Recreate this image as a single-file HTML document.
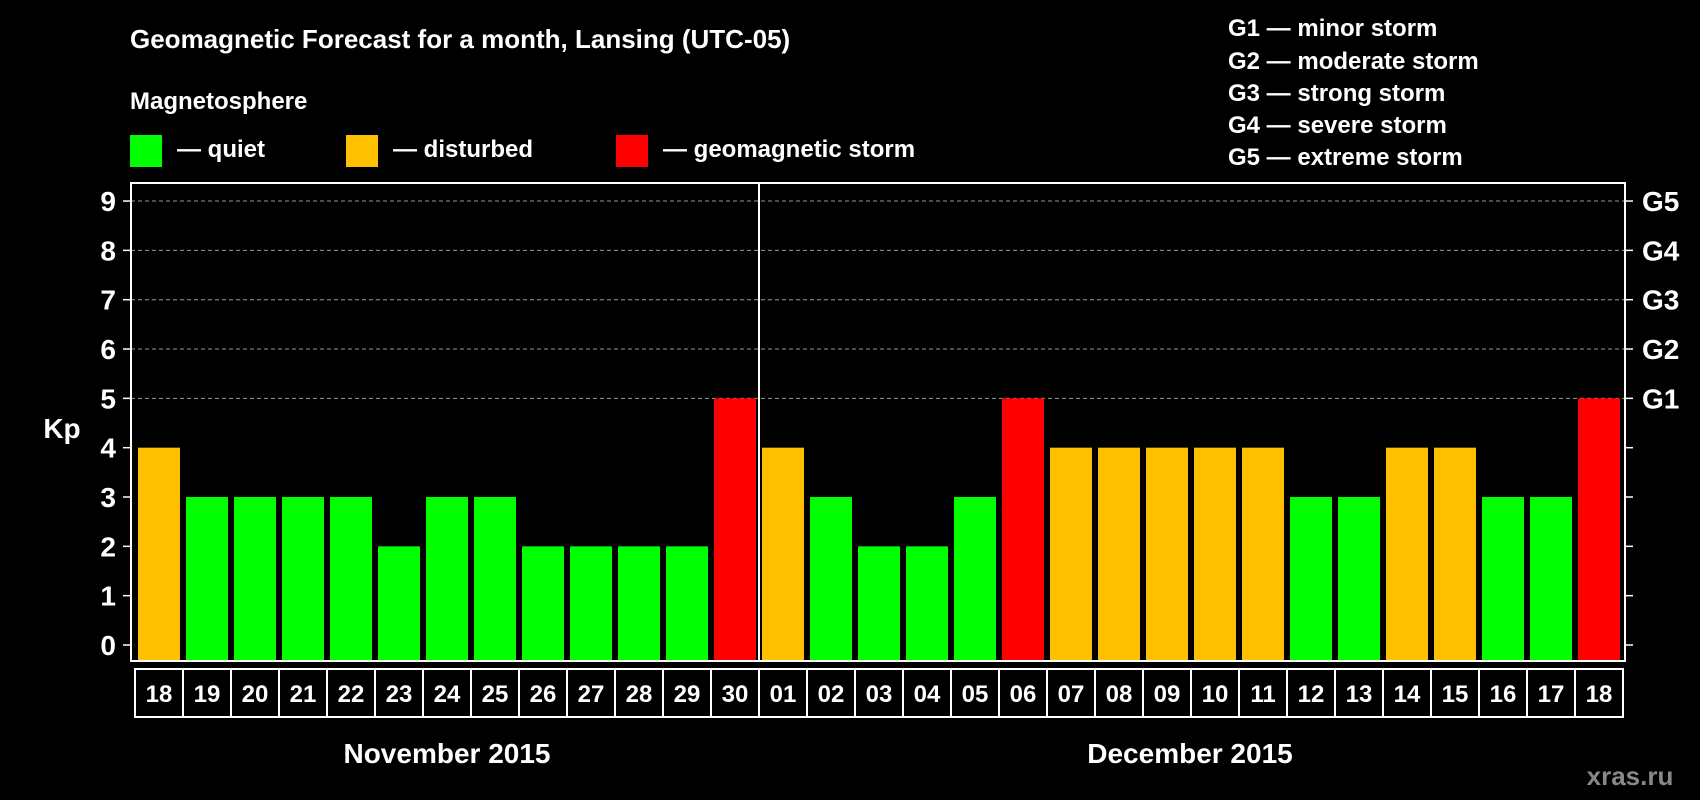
<!DOCTYPE html>
<html><head><meta charset="utf-8"><style>
html,body{margin:0;padding:0;background:#000;width:1700px;height:800px;overflow:hidden}
svg{display:block;font-family:"Liberation Sans",sans-serif;font-weight:bold}
</style></head><body>
<svg id="chart" width="1700" height="800" viewBox="0 0 1700 800">
<text x="130" y="48" fill="#fff" font-size="26">Geomagnetic Forecast for a month, Lansing (UTC-05)</text>
<text x="130" y="109" fill="#fff" font-size="24">Magnetosphere</text>
<rect x="130" y="135" width="32" height="32" fill="#00ff00"/>
<text x="177" y="157" fill="#fff" font-size="24">— quiet</text>
<rect x="346" y="135" width="32" height="32" fill="#ffc000"/>
<text x="393" y="157" fill="#fff" font-size="24">— disturbed</text>
<rect x="616" y="135" width="32" height="32" fill="#ff0000"/>
<text x="663" y="157" fill="#fff" font-size="24">— geomagnetic storm</text>
<g fill="#fff" font-size="24">
<text x="1228" y="36">G1 — minor storm</text>
<text x="1228" y="69">G2 — moderate storm</text>
<text x="1228" y="101">G3 — strong storm</text>
<text x="1228" y="133">G4 — severe storm</text>
<text x="1228" y="165">G5 — extreme storm</text>
</g>
<text x="62" y="438" fill="#fff" font-size="28" text-anchor="middle">Kp</text>
<text x="447" y="763" fill="#fff" font-size="28" text-anchor="middle">November 2015</text>
<text x="1190" y="763" fill="#fff" font-size="28" text-anchor="middle">December 2015</text>
<text x="1630" y="785" fill="#888" font-size="26" text-anchor="middle">xras.ru</text>
<g id="plot"></g>
</svg>
<script>
const dayLabels = ["18","19","20","21","22","23","24","25","26","27","28","29","30","01","02","03","04","05","06","07","08","09","10","11","12","13","14","15","16","17","18"];
const kpValues = [4,3,3,3,3,2,3,3,2,2,2,2,5,4,3,2,2,3,5,4,4,4,4,4,3,3,4,4,3,3,5];
const yTicks = [0,1,2,3,4,5,6,7,8,9];
const gLabels = ["G1","G2","G3","G4","G5"];
const monthBreakIndex = 13;

const NS = "http://www.w3.org/2000/svg";
const plot = document.getElementById("plot");
const L = 131, R = 1625, T = 183, B = 661;
const y0 = 645, unit = 49.33;
const y = v => y0 - v * unit;
const pitch = 48, x0 = 138, bw = 42;
const xBar = i => x0 + i * pitch;
function mk(tag, attrs) { const e = document.createElementNS(NS, tag); for (const k in attrs) e.setAttribute(k, attrs[k]); plot.appendChild(e); return e; }
function color(v) { return v >= 5 ? "#ff0000" : v >= 4 ? "#ffc000" : "#00ff00"; }

yTicks.forEach(v => {
  if (v >= 5) {
    const g = mk("line", {x1: L, x2: R, y1: y(v), y2: y(v), stroke: "#999", "stroke-width": 1, "stroke-dasharray": "4,3"});
    
    
  }
  const t1 = mk("line", {x1: L - 8, x2: L, y1: y(v), y2: y(v), stroke: "#fff", "stroke-width": 1.5});
  
  
  const t2 = mk("line", {x1: R, x2: R + 8, y1: y(v), y2: y(v), stroke: "#fff", "stroke-width": 1.5});
  
  
  const lb = mk("text", {x: 116, y: y(v) + 10, fill: "#fff", "font-size": 28, "text-anchor": "end"});
  lb.textContent = v;
  
  
});
gLabels.forEach((g, i) => {
  const lb = mk("text", {x: 1642, y: y(5 + i) + 10, fill: "#fff", "font-size": 28});
  lb.textContent = g;
  
  
});
kpValues.forEach((v, i) => {
  const r = mk("rect", {x: xBar(i), y: y(v), width: bw, height: B - y(v), fill: color(v)});
  
  
  const bx = mk("rect", {x: 135 + i * pitch, y: 669, width: pitch, height: 48, fill: "none", stroke: "#fff", "stroke-width": 2});
  
  
  const t = mk("text", {x: 135 + i * pitch + pitch / 2, y: 702, fill: "#fff", "font-size": 24, "text-anchor": "middle"});
  t.textContent = dayLabels[i];
  
  
});
const frame = mk("rect", {x: L, y: T, width: R - L, height: B - T, fill: "none", stroke: "#fff", "stroke-width": 2});


const sx = xBar(monthBreakIndex) - 3;
const sep = mk("line", {x1: sx, x2: sx, y1: T, y2: B, stroke: "#fff", "stroke-width": 2});


</script>
</body></html>
